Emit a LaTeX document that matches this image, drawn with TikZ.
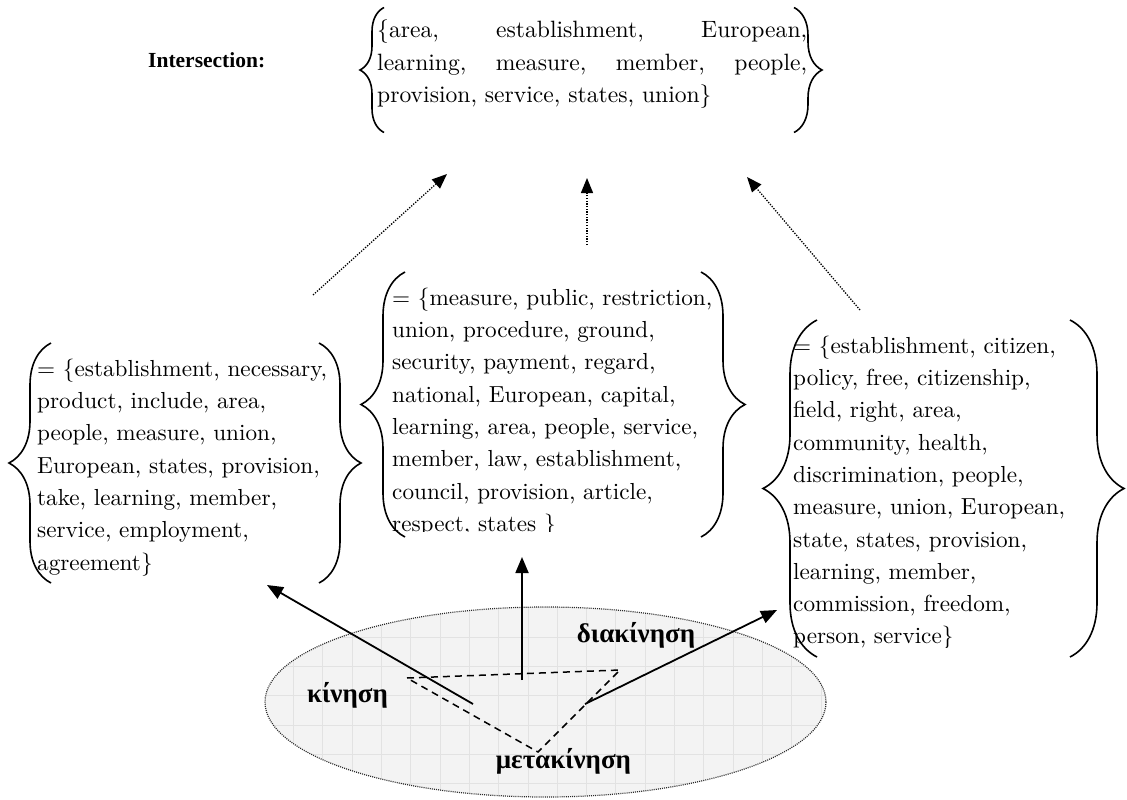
\documentclass[tikz,border=0pt]{standalone}
\usepackage{fontspec}
\setmainfont{lmroman10-regular.otf}[BoldFont=lmroman10-bold.otf]
\newfontfamily\timesfont{Liberation Serif}
\usetikzlibrary{arrows.meta,decorations.pathreplacing}
\definecolor{planegray}{HTML}{F3F3F3}
\definecolor{gridgray}{HTML}{E2E2E2}
\definecolor{rimgray}{HTML}{2A2A2A}

\begin{document}
\begin{tikzpicture}[x=1pt,y=-1pt,
  fr/.style={inner sep=0pt,outer sep=0pt},
  br/.style={decorate,decoration={brace,amplitude=#1},line width=1.6pt},
  wl/.style={anchor=north west,inner sep=0pt,align=left,
    font=\fontsize{23.2}{32.3}\selectfont},
  gl/.style={anchor=base,inner sep=0pt,font=\timesfont\bfseries\fontsize{27}{30}\selectfont},
  ar/.style={-{Triangle[length=16pt,width=13pt]},line width=1.8pt},
  da/.style={-{Triangle[length=15pt,width=12pt]},line width=1.3pt,dash pattern=on 1.3pt off 1.4pt},
  dl/.style={dash pattern=on 7pt off 5pt,line width=1.5pt}]
\useasboundingbox (0,0) rectangle (1127,800);
% plane with the three words
\fill[planegray] (545.5,702) ellipse [x radius=280.5,y radius=95];
\begin{scope}
  \clip (545.5,702) ellipse [x radius=280.5,y radius=95];
  \foreach \gx in {264.1,293.4,...,830} \draw[gridgray,line width=0.6pt] (\gx,600) -- (\gx,800);
  \foreach \gy in {607.7,637,...,800} \draw[gridgray,line width=0.6pt] (260,\gy) -- (830,\gy);
\end{scope}
\draw[rimgray,line width=1.2pt,dash pattern=on 1pt off 1.1pt] (545.5,702) ellipse [x radius=280.5,y radius=95];
\coordinate (kin) at (407,678);
\coordinate (diak) at (620,670);
\coordinate (metak) at (538,752);
\draw[dl] (kin) -- (diak) -- (metak) -- cycle;
\node[gl] (kinisi) at (347.5,702) {κίνηση};
\node[gl] (diakinisi) at (636,642) {διακίνηση};
\node[gl] (metakinisi) at (563.5,768) {μετακίνηση};
% brace frames
\node[fr,minimum width=410pt,minimum height=125pt] (I) at (589,70) {};
\node[fr,minimum width=268pt,minimum height=240pt] (L) at (185,463) {};
\node[fr,minimum width=296pt,minimum height=265pt] (M) at (553,404.5) {};
\node[fr,minimum width=253pt,minimum height=337pt] (R) at (943.5,488.5) {};
\draw[br=24] (I.south west) -- (I.north west);
\draw[br=28] (I.north east) -- (I.south east);
\draw[br=42] (L.south west) -- (L.north west);
\draw[br=42] (L.north east) -- (L.south east);
\draw[br=44] (M.south west) -- (M.north west);
\draw[br=44] (M.north east) -- (M.south east);
\draw[br=54] (R.south west) -- (R.north west);
\draw[br=54] (R.north east) -- (R.south east);
% word lists
\node[anchor=base west,inner sep=0pt,font=\timesfont\bfseries\fontsize{21.5}{24}\selectfont]
  (lab) at (148,67) {Intersection:};
\node[wl,font=\fontsize{23.6}{32.5}\selectfont] (Itxt) at (377,19.8)
  {\makebox[430pt][s]{\{area, establishment, European,}\\
   \makebox[430pt][s]{learning, measure, member, people,}\\
   provision, service, states, union\}};
\node[wl] (Ltxt) at (37,358.6)
  {= \{establishment, necessary,\\ product, include, area,\\ people, measure, union,\\
   European, states, provision,\\ take, learning, member,\\ service, employment,\\ agreement\}};
\begin{scope}
  \clip (380,260) rectangle (730,531);
  \node[wl] (Mtxt) at (392,287.6)
    {= \{measure, public, restriction,\\ union, procedure, ground,\\ security, payment, regard,\\
     national, European, capital,\\ learning, area, people, service,\\ member, law, establishment,\\
     council, provision, article,\\ respect, states \}};
\end{scope}
\begin{scope}
  \clip (780,300) rectangle (1100,647);
  \node[wl] (Rtxt) at (793,335.6)
    {= \{establishment, citizen,\\ policy, free, citizenship,\\ field, right, area,\\
     community, health,\\ discrimination, people,\\ measure, union, European,\\
     state, states, provision,\\ learning, member,\\ commission, freedom,\\ person, service\}};
\end{scope}
% arrows
\coordinate (sL) at (473,704); \coordinate (eL) at (267,585);
\coordinate (sM) at (522,680); \coordinate (eM) at (522,557);
\coordinate (sR) at (585,704); \coordinate (eR) at (777,610);
\draw[ar] (sL) -- (eL); \draw[ar] (sM) -- (eM); \draw[ar] (sR) -- (eR);
\coordinate (uL) at (313,295); \coordinate (vL) at (447,174);
\coordinate (uM) at (587,245); \coordinate (vM) at (587,178);
\coordinate (uR) at (860,310); \coordinate (vR) at (747,177);
\draw[da] (uL) -- (vL); \draw[da] (uM) -- (vM); \draw[da] (uR) -- (vR);
\end{tikzpicture}
\end{document}
